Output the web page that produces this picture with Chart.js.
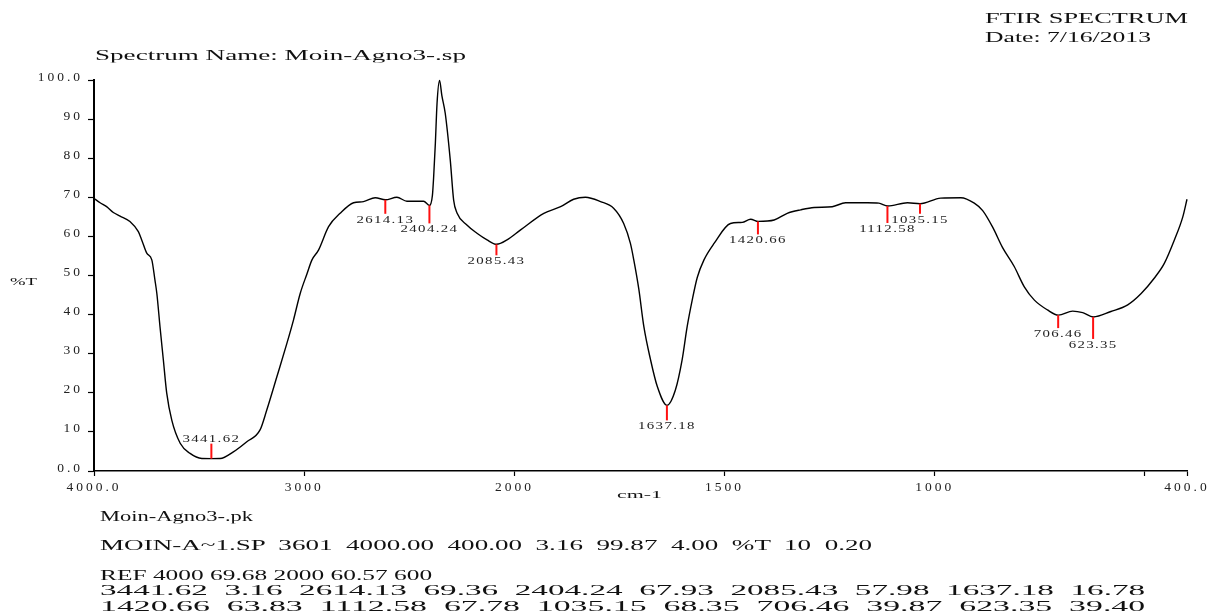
<!DOCTYPE html>
<html>
<head>
<meta charset="utf-8">
<script src="https://cdn.jsdelivr.net/npm/chart.js@4.4.1/dist/chart.umd.min.js"></script>
<style>
html, body { margin: 0; padding: 0; background: #fff; }
#wrap { position: relative; width: 1208px; height: 613px; overflow: hidden; }
#chart { position: absolute; left: 0; top: 0; }
.txt { position: absolute; white-space: pre; font-family: 'Liberation Serif', 'Times New Roman', serif; color: #111; line-height: 1; transform-origin: 0 50%; }
</style>
</head>
<body>
<div id="wrap">
  <canvas id="chart" width="1208" height="613"></canvas>
</div>
<script>
// spectrum (wavenumber in cm-1, transmittance in %T)
const wavenumber = [4000, 3971, 3940, 3908, 3876, 3829, 3789, 3773, 3749, 3725, 3710, 3701, 3686, 3670, 3654, 3630, 3590, 3543, 3487, 3442,
  3400, 3337, 3273, 3210, 3178, 3130, 3082, 3051, 3019, 2987, 2963, 2932, 2884, 2829, 2765, 2718, 2662, 2614, 2559, 2511,
  2432, 2404, 2390, 2384, 2376, 2368, 2356, 2345, 2329, 2305, 2289, 2273, 2226, 2178, 2130, 2085, 2035, 1986, 1930, 1890,
  1859, 1831, 1795, 1764, 1740, 1724, 1716, 1704, 1692, 1676, 1660, 1637, 1617, 1601, 1589, 1577, 1565, 1549, 1525, 1486,
  1458, 1438, 1420, 1382, 1351, 1319, 1287, 1244, 1212, 1160, 1133, 1112, 1065, 1035, 986, 938, 906, 886, 862, 839,
  811, 787, 763, 732, 706, 672, 648, 623, 581, 541, 509, 478, 454, 430, 410, 400];
const transmittance = [69.7, 68.6, 67.6, 66.1, 65.2, 63.8, 61.2, 59.1, 55.7, 54.0, 48.8, 45.4, 36.9, 28.4, 19.9, 13.0, 7.1, 4.5, 3.2, 3.16,
  3.2, 4.9, 7.5, 10.5, 15.6, 24.1, 32.7, 38.6, 45.4, 50.4, 54.0, 56.5, 62.5, 65.9, 68.6, 68.9, 69.9, 69.36, 70.0, 69.0,
  69.0, 67.93, 70.5, 75.3, 83.8, 94.0, 99.87, 96.0, 91.5, 79.5, 69.3, 66.0, 62.9, 60.8, 59.1, 57.98, 59.1, 61.6, 65.9, 67.6,
  69.5, 70.0, 68.9, 67.2, 63.3, 58.2, 54.0, 46.5, 36.9, 28.4, 21.6, 16.78, 20.7, 28.4, 36.9, 43.7, 49.5, 54.0, 58.2, 63.3,
  63.6, 64.4, 63.83, 64.2, 65.9, 66.8, 67.4, 67.6, 68.6, 68.6, 68.5, 67.78, 68.6, 68.35, 69.8, 69.9, 68.5, 66.6, 62.3, 57.2,
  52.3, 47.1, 43.7, 41.2, 39.87, 40.9, 40.5, 39.40, 40.8, 42.5, 45.4, 49.3, 53.1, 59.1, 65.0, 69.5];

// picked peaks (from the peak table)
const peakWn = [3441.62, 2614.13, 2404.24, 2085.43, 1637.18, 1420.66, 1112.58, 1035.15, 706.46, 623.35];
const peakT = [3.16, 69.36, 67.93, 57.98, 16.78, 63.83, 67.78, 68.35, 39.87, 39.40];

// axis ticks
const xTicks = [4000, 3000, 2000, 1500, 1000, 500, 400];
const xTickLabels = ['4000.0', '3000', '2000', '1500', '1000', '', '400.0'];
const yTicks = [0, 10, 20, 30, 40, 50, 60, 70, 80, 90, 100];
const yTickLabels = ['0.0', '10', '20', '30', '40', '50', '60', '70', '80', '90', '100.0'];

// length of the red peak marks in px (negative = drawn upwards)
const peakMarkLen = [-15, 14, 18, 11, 15, 13, 17, 10, 13, 22];

// FTIR axis: 4000-2000 at half the scale of 2000-400
const BREAK_AT = 2000;
class BrokenAxis extends Chart.LinearScale {
  pos(v) {
    return v >= BREAK_AT ? (this.max - v) / 1000 : (this.max - BREAK_AT) / 1000 + (BREAK_AT - v) / 500;
  }
  buildTicks() {
    return xTicks.map(v => ({ value: v }));
  }
  getPixelForValue(v) {
    return this.left + this.pos(v) / this.pos(this.min) * this.width;
  }
  getValueForPixel(p) {
    const t = (p - this.left) / this.width * this.pos(this.min);
    const b = this.pos(BREAK_AT);
    return t <= b ? this.max - t * 1000 : BREAK_AT - (t - b) * 500;
  }
}
BrokenAxis.id = 'broken';
BrokenAxis.defaults = Chart.LinearScale.defaults;
Chart.register(BrokenAxis);

const spacing = {
  id: 'spacing',
  beforeDraw(chart) { chart.ctx.letterSpacing = '3px'; }
};

const peakMarks = {
  id: 'peakMarks',
  afterDatasetsDraw(chart) {
    const { ctx, scales: { x, y } } = chart;
    ctx.save();
    peakWn.forEach((w, i) => {
      const px = x.getPixelForValue(w);
      const py = y.getPixelForValue(peakT[i]);
      const len = peakMarkLen[i];
      ctx.strokeStyle = '#ff1010';
      ctx.lineWidth = 2;
      ctx.beginPath();
      ctx.moveTo(px, py);
      ctx.lineTo(px, py + len);
      ctx.stroke();

      const ty = py + len + (len > 0 ? 6 : -5);
      ctx.save();
      ctx.translate(px, ty);
      ctx.scale(1.35, 1);
      ctx.font = '11px "Liberation Serif"';
      ctx.letterSpacing = '1px';
      ctx.fillStyle = '#222';
      ctx.textAlign = 'center';
      ctx.textBaseline = 'middle';
      ctx.fillText(w.toFixed(2), 0, 0);
      ctx.restore();
    });
    ctx.restore();
  }
};

const tickFont = { family: 'Liberation Serif', size: 13.5 };

new Chart(document.getElementById('chart'), {
  type: 'line',
  data: {
    datasets: [{
      data: wavenumber.map((w, i) => ({ x: w, y: transmittance[i] })),
      borderColor: '#000',
      borderWidth: 1.4,
      pointRadius: 0,
      cubicInterpolationMode: 'monotone',
      fill: false,
      clip: false
    }]
  },
  options: {
    responsive: false,
    animation: false,
    events: [],
    layout: { padding: { left: 0, right: 21, top: 80, bottom: 0 } },
    plugins: { legend: { display: false }, tooltip: { enabled: false } },
    scales: {
      x: {
        type: 'broken',
        min: 400,
        max: 4000,
        border: { color: '#000', width: 1.5 },
        grid: { drawOnChartArea: false, tickLength: 5, tickColor: '#000', tickWidth: 1.2 },
        ticks: {
          autoSkip: false, maxRotation: 0, padding: 3, color: '#222', font: tickFont,
          callback: v => xTickLabels[xTicks.indexOf(v)]
        },
        afterFit: s => { s.height = 142; s.paddingLeft = 0; s.paddingRight = 0; }
      },
      y: {
        min: 0,
        max: 100,
        border: { color: '#000', width: 2 },
        grid: { drawOnChartArea: false, tickLength: 6, tickColor: '#000', tickWidth: 1.2 },
        afterBuildTicks: s => { s.ticks = yTicks.map(v => ({ value: v })); },
        ticks: {
          padding: 5, color: '#222', font: tickFont, labelOffset: -3,
          callback: v => yTickLabels[yTicks.indexOf(v)]
        },
        afterFit: s => { s.width = 94; s.paddingTop = 0; s.paddingBottom = 0; }
      }
    }
  },
  plugins: [spacing, peakMarks]
});

// header, axis titles and the peak listing under the plot
const pairs = (a, b) => peakWn.slice(a, b).map((w, i) => w.toFixed(2) + '  ' + peakT[a + i].toFixed(2)).join('  ');
const texts = [
  ['FTIR SPECTRUM', 985, 18, 203, 15],
  ['Date: 7/16/2013', 985, 37, 166, 15],
  ['Spectrum Name: Moin-Agno3-.sp', 95, 55, 371, 15],
  ['%T', 10, 281, 27, 11],
  ['cm-1', 617, 494, 45, 11],
  ['Moin-Agno3-.pk', 100, 516, 153, 15],
  ['MOIN-A~1.SP  3601  4000.00  400.00  3.16  99.87  4.00  %T  10  0.20', 100, 545, 772, 15],
  ['REF 4000 69.68 2000 60.57 600', 100, 575, 332, 15],
  [pairs(0, 5), 100, 590, 1045, 15],
  [pairs(5, 10), 100, 606, 1045, 15]
];
const wrap = document.getElementById('wrap');
texts.forEach(([t, left, cy, w, size]) => {
  const el = document.createElement('div');
  el.className = 'txt';
  el.textContent = t;
  el.style.left = left + 'px';
  el.style.top = cy + 'px';
  el.style.fontSize = size + 'px';
  wrap.appendChild(el);
  const sx = w / el.getBoundingClientRect().width;
  el.style.transform = 'translateY(-50%) scaleX(' + sx.toFixed(3) + ')';
});
</script>
</body>
</html>
